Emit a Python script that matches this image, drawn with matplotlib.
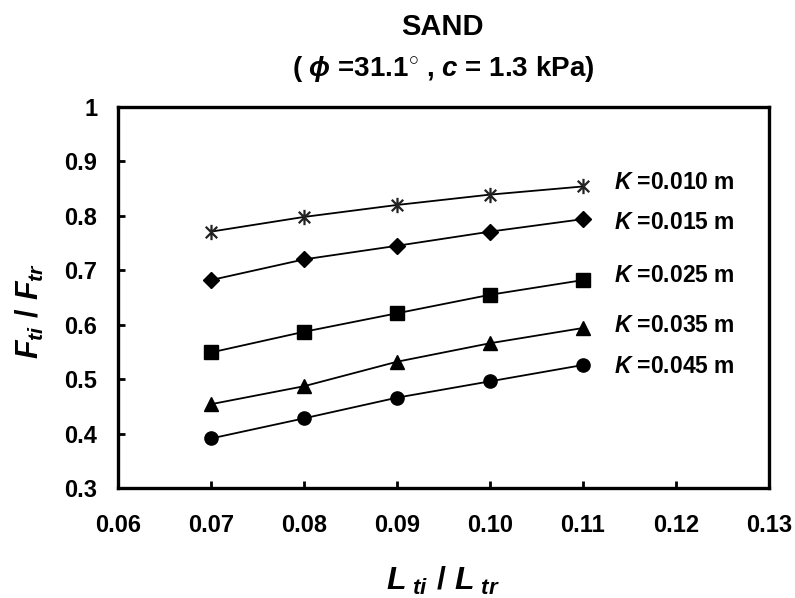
import matplotlib
matplotlib.use("Agg")
import matplotlib.pyplot as plt
from matplotlib.path import Path

plt.rcParams['font.family'] = ['Liberation Sans', 'DejaVu Sans']
plt.rcParams['font.weight'] = 'bold'
plt.rcParams['mathtext.fontset'] = 'custom'
plt.rcParams['mathtext.rm'] = 'Liberation Sans:bold'
plt.rcParams['mathtext.it'] = 'Liberation Sans:italic:bold'
plt.rcParams['mathtext.bf'] = 'Liberation Sans:bold'
plt.rcParams['xtick.major.pad'] = 19
plt.rcParams['ytick.major.pad'] = 15

# data
x_vals = [0.07, 0.08, 0.09, 0.10, 0.11]
k010 = [0.771, 0.798, 0.820, 0.839, 0.854]
k015 = [0.682, 0.720, 0.745, 0.771, 0.794]
k025 = [0.549, 0.587, 0.621, 0.655, 0.682]
k035 = [0.454, 0.487, 0.532, 0.566, 0.594]
k045 = [0.391, 0.428, 0.466, 0.496, 0.526]
series_labels = ['0.010', '0.015', '0.025', '0.035', '0.045']
label_y = [0.862, 0.787, 0.691, 0.598, 0.524]
x_ticks = [0.06, 0.07, 0.08, 0.09, 0.10, 0.11, 0.12, 0.13]
x_ticklabels = ['0.06', '0.07', '0.08', '0.09', '0.10', '0.11', '0.12', '0.13']
y_ticks = [0.3, 0.4, 0.5, 0.6, 0.7, 0.8, 0.9, 1.0]
y_ticklabels = ['0.3', '0.4', '0.5', '0.6', '0.7', '0.8', '0.9', '1']

star = Path([(0, -1), (0, 1), (-0.75, -0.75), (0.75, 0.75), (-0.75, 0.75), (0.75, -0.75)],
            [Path.MOVETO, Path.LINETO, Path.MOVETO, Path.LINETO, Path.MOVETO, Path.LINETO])

fig = plt.figure(figsize=(7.95, 5.98), dpi=100)
ax = fig.add_axes([0.1484, 0.1839, 0.8189, 0.6372])

styles = [
    (k010, dict(marker=star, ms=11, mew=1.6, mfc='none', mec='#222222')),
    (k015, dict(marker='D', ms=8, mfc='black', mec='black')),
    (k025, dict(marker='s', ms=9.5, mfc='black', mec='black')),
    (k035, dict(marker='^', ms=10, mfc='black', mec='black')),
    (k045, dict(marker='o', ms=9.5, mfc='black', mec='black')),
]
for ys, st in styles:
    ax.plot(x_vals, ys, color='black', lw=1.3, **st)

for lab, yy in zip(series_labels, label_y):
    ax.text(0.1133, yy, r'$K$ =' + lab + ' m', fontsize=16.5, fontweight='bold',
            ha='left', va='center')

ax.set_xlim(0.06, 0.13)
ax.set_ylim(0.3, 1.0)
ax.set_xticks(x_ticks)
ax.set_xticklabels(x_ticklabels)
ax.set_yticks(y_ticks)
ax.set_yticklabels(y_ticklabels)
ax.tick_params(axis='both', direction='in', length=5, width=2, labelsize=17)
for lbl in ax.get_xticklabels() + ax.get_yticklabels():
    lbl.set_fontweight('bold')
for sp in ax.spines.values():
    sp.set_linewidth(2.4)

fig.text(0.557, 1 - 27 / 598, 'SAND', ha='center', va='center', fontsize=21, fontweight='bold')
fig.text(0.557, 1 - 69 / 598, r'( $\phi$ =31.1$^{\circ}$ , $c$ = 1.3 kPa)', ha='center', va='center',
         fontsize=20, fontweight='bold')

fig.text(0.557, 1 - 581 / 598, r'$L_{\ ti}\ /\ L_{\ tr}$', ha='center', va='center', fontsize=23)
fig.text(0.038, 0.48, r'$F_{ti}\ /\ F_{tr}$', ha='center', va='center', fontsize=22, rotation=90)

fig.savefig('out.png', dpi=100)
